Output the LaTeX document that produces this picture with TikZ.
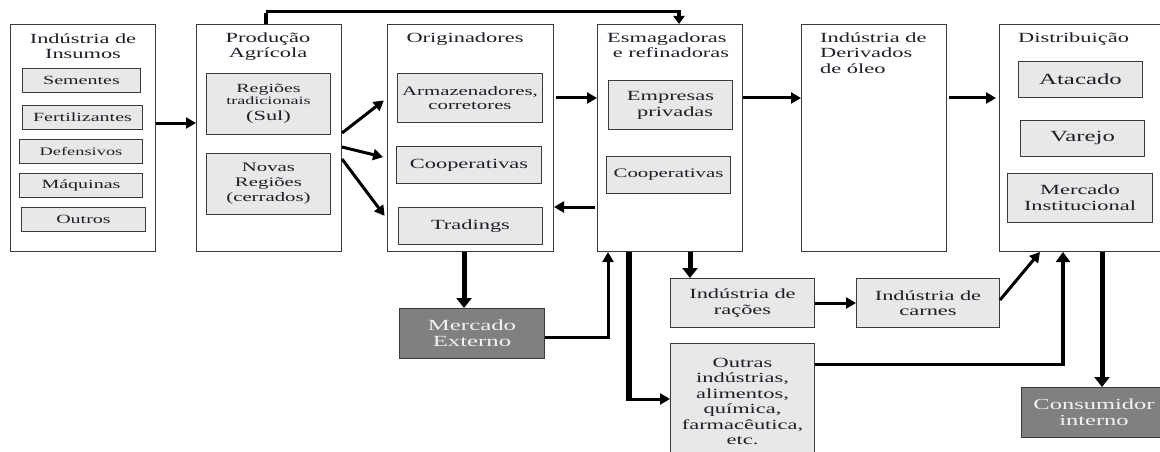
\documentclass[tikz,border=0pt]{standalone}
\usepackage{fontspec}
\setmainfont[FakeStretch=1.6]{Liberation Serif}
\usetikzlibrary{arrows.meta,calc}
\definecolor{bordc}{HTML}{3A3A3A}
\definecolor{boxfill}{HTML}{E8E8E8}
\definecolor{darkfill}{HTML}{808080}
\definecolor{txtc}{HTML}{1E1E28}
\newcommand\myfs[2]{\fontsize{#1}{#2}\selectfont}
\tikzset{
  bigbox/.style={draw=bordc, line width=1pt, fill=white, anchor=north west, inner sep=0pt, minimum height=227pt},
  inbox/.style={draw=bordc, line width=1pt, fill=boxfill, anchor=north west, inner sep=0pt, align=center, text=txtc},
  darkbox/.style={inbox, fill=darkfill, text=white!95!black},
  ttl/.style={inner sep=0pt, text=txtc, font=\myfs{14}{15.5}},
  arr/.style={line width=3pt, draw=black, -{Triangle[length=10pt,width=11pt]}},
  tarr/.style={line width=5pt, draw=black, -{Triangle[length=10pt,width=15pt]}},
}
\begin{document}
\begin{tikzpicture}[x=1pt,y=-1pt]
\useasboundingbox (0,0) rectangle (1160,452);

% big columns
\node[bigbox, minimum width=145pt] (ins)  at (10,24) {};
\node[bigbox, minimum width=145pt] (prod) at (196,24) {};
\node[bigbox, minimum width=166pt] (orig) at (387,24) {};
\node[bigbox, minimum width=145pt] (esm)  at (597,24) {};
\node[bigbox, minimum width=145pt] (der)  at (801,24) {};
\node[bigbox, minimum width=170pt] (dist) at (999,24) {};

% titles
\node[ttl, anchor=north, align=center] (tins) at (83,33.5) {Indústria de\\Insumos};
\node[ttl, anchor=north, align=center] (tprod) at (268,32.5) {Produção\\Agrícola};
\node[ttl, anchor=north, align=center] (torig) at (465,32.5) {Originadores};
\node[ttl, anchor=north west, align=left] (tesm) at (607,32.5) {Esmagadoras\\\ e refinadoras};
\node[ttl, anchor=north west, align=left] (tder) at (820,32.5) {Indústria de\\Derivados\\de óleo};
\node[ttl, anchor=north west, align=left] (tdist) at (1018,32.5) {Distribuição};

% Insumos
\node[inbox, minimum width=118pt, minimum height=24pt, font=\myfs{12.5}{14}] (sem) at (22,68) {Sementes};
\node[inbox, minimum width=120pt, minimum height=24pt, font=\myfs{12.5}{14}] (fert) at (22,105) {Fertilizantes};
\node[inbox, minimum width=123pt, minimum height=24pt, font=\myfs{11.5}{13}] (def) at (19,139) {Defensivos};
\node[inbox, minimum width=123pt, minimum height=24pt, font=\myfs{12.5}{14}] (maq) at (19,173) {Máquinas};
\node[inbox, minimum width=124pt, minimum height=24pt, font=\myfs{12.5}{14}] (out) at (21,207) {Outros};

% Producao
\node[inbox, minimum width=124pt, minimum height=61pt, font=\myfs{12.5}{13}] (reg) at (206,73)
  {Regiões\\[-0.5pt]{\myfs{11.3}{12}tradicionais}\\[3pt]{\myfs{14}{15}(Sul)}};
\node[inbox, minimum width=124pt, minimum height=61pt, font=\myfs{13}{15}] (nov) at (206,153)
  {Novas\\Regiões\\(cerrados)};

% Originadores
\node[inbox, minimum width=145pt, minimum height=49pt, font=\myfs{13}{13.5}] (arm) at (397,73) {Armazenadores,\\corretores};
\node[inbox, minimum width=145pt, minimum height=37pt, font=\myfs{14}{16}] (coopa) at (396,146) {Cooperativas};
\node[inbox, minimum width=144pt, minimum height=37pt, font=\myfs{14}{16}] (trad) at (398,207) {Tradings};

% Esmagadoras
\node[inbox, minimum width=124pt, minimum height=49pt, font=\myfs{14}{16}, text width=112pt] (emp) at (608,80) {Empresas\\\ \ privadas};
\node[inbox, minimum width=124pt, minimum height=37pt, font=\myfs{13}{15}] (coopb) at (606,156) {Cooperativas};

% Distribuicao
\node[inbox, minimum width=124pt, minimum height=36pt, font=\myfs{15.5}{17}] (atac) at (1018,61) {Atacado};
\node[inbox, minimum width=124pt, minimum height=36pt, font=\myfs{15.5}{17}] (var) at (1020,120) {Varejo};
\node[inbox, minimum width=145pt, minimum height=49pt, font=\myfs{14}{16}] (merci) at (1007,173) {Mercado\\Institucional};

% lower boxes
\node[darkbox, minimum width=145pt, minimum height=50pt, font=\myfs{15.5}{16}] (mext) at (399,308) {Mercado\\Externo};
\node[inbox, minimum width=144pt, minimum height=49pt, font=\myfs{14}{15.5}] (rac) at (670,278) {Indústria de\\rações};
\node[inbox, minimum width=143pt, minimum height=49pt, font=\myfs{14}{15.5}] (carn) at (856,278) {Indústria de\\carnes};
\node[inbox, minimum width=144pt, minimum height=116pt, font=\myfs{14}{15.5}] (outr) at (670,343)
  {Outras\\indústrias,\\alimentos,\\química,\\farmacêutica,\\etc.};
\node[darkbox, minimum width=145pt, minimum height=50pt, font=\myfs{15.3}{16}] (cons) at (1021,387) {Consumidor\\interno};

% connectors
\draw[arr] (ins.east |- 0,123) -- (prod.west |- 0,123);
\draw[arr, shorten >=4pt] (prod.east |- 0,133) -- (orig.west |- 0,98);
\draw[arr, shorten >=4pt] (prod.east |- 0,147) -- (orig.west |- 0,158);
\draw[arr, shorten >=4pt] (prod.east |- 0,159) -- (orig.west |- 0,219);

\coordinate (tl) at (266,11.5);
\draw[line width=4pt] (prod.north -| tl) -- ([yshift=-1.5pt]tl);
\draw[line width=3.5pt, -{Triangle[length=8pt,width=11pt]}] (tl) -| (esm.north -| 679,0);

\draw[arr, shorten <=2pt] (orig.east |- 0,98) -- (esm.west |- 0,98);
\draw[arr, shorten <=2pt] (esm.west |- 0,207) -- (orig.east |- 0,207);
\draw[arr] (esm.east |- 0,98) -- (der.west |- 0,98);
\draw[arr, shorten <=2pt, shorten >=3pt] (der.east |- 0,98) -- (dist.west |- 0,98);

\draw[tarr] (orig.south -| 464,0) -- (mext.north -| 464,0);
\draw[arr] (mext.east |- 0,337) -| (esm.south -| 608,0);

\coordinate (dn) at (629,399);
\draw[line width=6pt] (esm.south -| dn) -- ([yshift=-1.5pt]dn);
\draw[arr] ([xshift=-3pt]dn) -- (outr.west |- dn);

\draw[tarr] (esm.south -| 690,0) -- (rac.north -| 690,0);
\draw[arr] (rac.east) -- (carn.west);
\draw[arr] (carn.east |- 0,300) -- (dist.south -| 1040,0);
\draw[line width=3pt] (outr.east |- 0,364) -- (1063,364);
\draw[line width=4.5pt, -{Triangle[length=10pt,width=14pt]}] (1063,366) -- (dist.south -| 1063,0);
\draw[tarr] (dist.south -| 1102,0) -- (cons.north -| 1102,0);
\end{tikzpicture}
\end{document}
